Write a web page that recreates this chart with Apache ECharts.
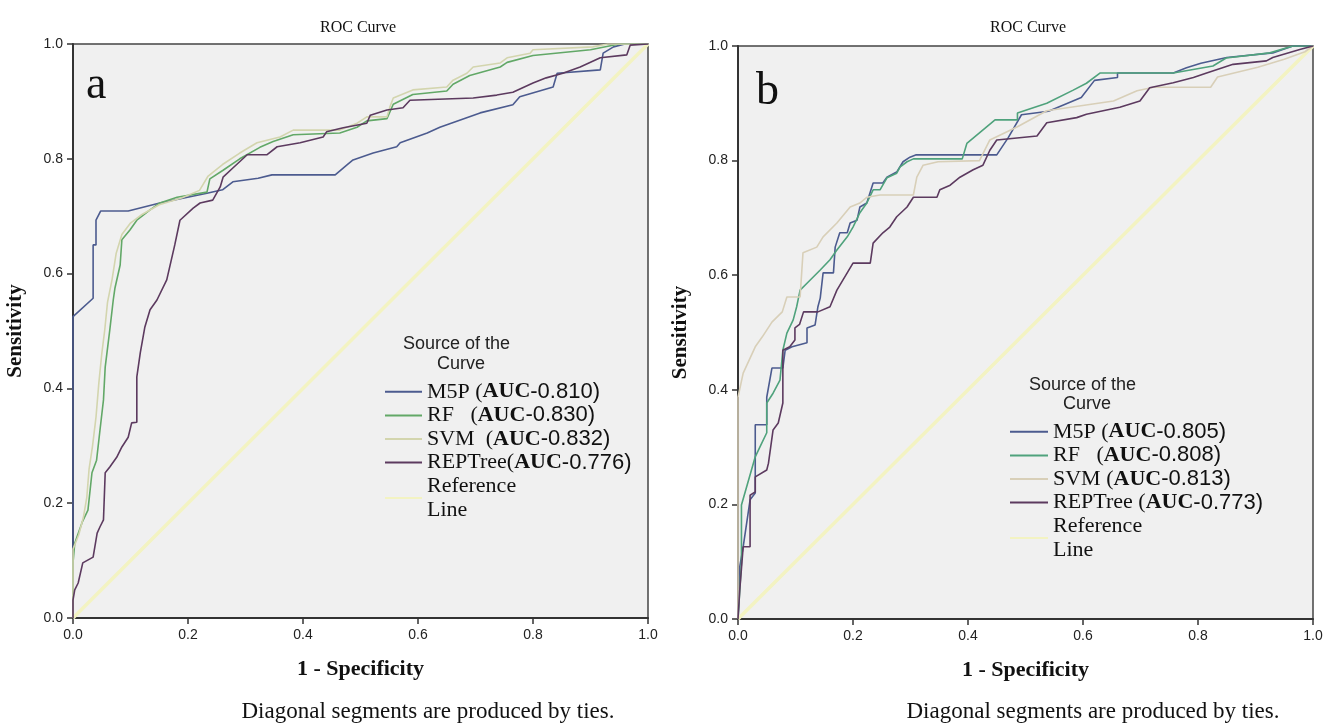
<!DOCTYPE html>
<html><head><meta charset="utf-8">
<script src="https://cdn.jsdelivr.net/npm/echarts@6/dist/echarts.min.js"></script>
<style>html,body{margin:0;padding:0;background:#fff}#c{width:1338px;height:726px}</style>
</head><body><div id="c"></div>
<script>
// ---------- data ----------
const namesA = ['M5P (AUC-0.810)', 'RF   (AUC-0.830)', 'SVM  (AUC-0.832)', 'REPTree(AUC-0.776)'];
const namesB = ['M5P (AUC-0.805)', 'RF   (AUC-0.808)', 'SVM (AUC-0.813)', 'REPTree (AUC-0.773)'];
const refName = 'Reference\nLine';
const refLine = [[0, 0], [1, 1]];

const aM5P = [[0,0],[0,0.525],[0.035,0.557],[0.035,0.65],[0.04,0.65],[0.04,0.693],[0.048,0.709],[0.096,0.709],[0.151,0.723],[0.233,0.74],[0.26,0.746],[0.278,0.76],[0.322,0.766],[0.346,0.772],[0.456,0.772],[0.476,0.789],[0.487,0.798],[0.522,0.81],[0.563,0.821],[0.569,0.828],[0.616,0.845],[0.638,0.855],[0.708,0.88],[0.765,0.894],[0.777,0.908],[0.835,0.925],[0.842,0.949],[0.917,0.955],[0.922,0.984],[0.94,0.995],[0.96,1],[1,1]];
const aRF = [[0,0],[0,0.096],[0.003,0.13],[0.016,0.167],[0.026,0.188],[0.033,0.253],[0.041,0.275],[0.047,0.328],[0.053,0.38],[0.056,0.437],[0.064,0.502],[0.07,0.554],[0.073,0.575],[0.082,0.615],[0.085,0.659],[0.099,0.676],[0.111,0.693],[0.134,0.711],[0.151,0.723],[0.181,0.733],[0.233,0.742],[0.238,0.765],[0.261,0.78],[0.29,0.8],[0.325,0.82],[0.348,0.83],[0.383,0.842],[0.464,0.845],[0.494,0.855],[0.511,0.866],[0.546,0.87],[0.557,0.895],[0.591,0.912],[0.65,0.918],[0.661,0.93],[0.69,0.945],[0.743,0.96],[0.755,0.968],[0.8,0.98],[0.9,0.99],[0.95,1],[1,1]];
const aSVM = [[0,0],[0,0.12],[0.01,0.145],[0.018,0.175],[0.024,0.21],[0.028,0.26],[0.034,0.3],[0.04,0.35],[0.045,0.41],[0.05,0.46],[0.055,0.5],[0.06,0.55],[0.068,0.59],[0.075,0.635],[0.085,0.668],[0.1,0.688],[0.12,0.703],[0.15,0.72],[0.19,0.732],[0.22,0.745],[0.235,0.77],[0.26,0.79],[0.29,0.81],[0.32,0.828],[0.36,0.838],[0.383,0.85],[0.464,0.85],[0.494,0.862],[0.511,0.873],[0.546,0.873],[0.551,0.89],[0.557,0.906],[0.591,0.92],[0.65,0.925],[0.661,0.937],[0.685,0.949],[0.696,0.96],[0.743,0.967],[0.755,0.976],[0.795,0.984],[0.8,0.99],[0.904,0.995],[0.93,1],[1,1]];
const aREP = [[0,0],[0,0.031],[0.003,0.049],[0.009,0.061],[0.017,0.096],[0.035,0.106],[0.042,0.148],[0.047,0.159],[0.053,0.171],[0.056,0.253],[0.064,0.263],[0.076,0.28],[0.085,0.298],[0.096,0.315],[0.102,0.34],[0.111,0.341],[0.111,0.42],[0.117,0.462],[0.125,0.507],[0.134,0.537],[0.146,0.554],[0.163,0.589],[0.177,0.65],[0.186,0.693],[0.209,0.714],[0.221,0.723],[0.243,0.728],[0.256,0.751],[0.261,0.768],[0.278,0.784],[0.303,0.807],[0.337,0.807],[0.355,0.821],[0.395,0.828],[0.435,0.838],[0.441,0.847],[0.47,0.854],[0.511,0.862],[0.517,0.876],[0.546,0.885],[0.574,0.889],[0.586,0.902],[0.696,0.906],[0.737,0.911],[0.765,0.916],[0.8,0.932],[0.823,0.941],[0.852,0.949],[0.882,0.96],[0.917,0.976],[0.963,0.981],[0.969,0.998],[1,1]];

const bM5P = [[0,0],[0.003,0.091],[0.009,0.126],[0.021,0.208],[0.03,0.22],[0.03,0.339],[0.05,0.339],[0.05,0.387],[0.059,0.438],[0.078,0.438],[0.082,0.469],[0.094,0.475],[0.12,0.482],[0.12,0.508],[0.134,0.513],[0.139,0.545],[0.143,0.56],[0.148,0.604],[0.166,0.604],[0.169,0.649],[0.177,0.674],[0.19,0.674],[0.195,0.691],[0.207,0.696],[0.212,0.719],[0.224,0.726],[0.235,0.761],[0.252,0.761],[0.259,0.771],[0.276,0.78],[0.287,0.798],[0.299,0.806],[0.31,0.81],[0.45,0.81],[0.47,0.84],[0.493,0.88],[0.54,0.886],[0.597,0.91],[0.62,0.94],[0.66,0.945],[0.66,0.953],[0.757,0.953],[0.78,0.962],[0.805,0.97],[0.85,0.98],[0.93,0.988],[0.965,1],[1,1]];
const bRF = [[0,0],[0.006,0.098],[0.006,0.199],[0.009,0.199],[0.03,0.283],[0.038,0.3],[0.05,0.325],[0.05,0.377],[0.061,0.394],[0.073,0.417],[0.078,0.469],[0.085,0.499],[0.096,0.522],[0.102,0.545],[0.108,0.574],[0.12,0.586],[0.143,0.609],[0.16,0.627],[0.172,0.644],[0.19,0.667],[0.2,0.684],[0.212,0.709],[0.224,0.726],[0.235,0.749],[0.247,0.749],[0.259,0.77],[0.276,0.778],[0.282,0.789],[0.294,0.798],[0.305,0.803],[0.39,0.803],[0.398,0.83],[0.447,0.871],[0.486,0.871],[0.486,0.883],[0.537,0.9],[0.583,0.923],[0.606,0.935],[0.63,0.953],[0.757,0.953],[0.826,0.965],[0.849,0.979],[0.925,0.988],[0.965,1],[1,1]];
const bSVM = [[0,0],[0,0.387],[0.009,0.429],[0.03,0.475],[0.042,0.492],[0.059,0.518],[0.077,0.536],[0.085,0.562],[0.108,0.562],[0.113,0.639],[0.137,0.649],[0.148,0.667],[0.172,0.691],[0.195,0.719],[0.212,0.726],[0.224,0.736],[0.247,0.74],[0.305,0.74],[0.311,0.771],[0.322,0.792],[0.348,0.798],[0.42,0.8],[0.438,0.836],[0.486,0.859],[0.537,0.887],[0.653,0.904],[0.694,0.922],[0.723,0.928],[0.822,0.928],[0.834,0.946],[0.904,0.963],[0.95,0.977],[0.986,0.99],[1,1]];
const bREP = [[0,0],[0.003,0.05],[0.009,0.126],[0.021,0.126],[0.021,0.216],[0.03,0.222],[0.03,0.248],[0.05,0.26],[0.053,0.272],[0.061,0.33],[0.07,0.342],[0.078,0.377],[0.078,0.469],[0.09,0.475],[0.099,0.487],[0.099,0.508],[0.107,0.514],[0.114,0.536],[0.139,0.536],[0.16,0.545],[0.172,0.574],[0.2,0.621],[0.23,0.621],[0.235,0.656],[0.252,0.674],[0.264,0.684],[0.276,0.702],[0.294,0.719],[0.305,0.736],[0.346,0.736],[0.351,0.749],[0.369,0.757],[0.386,0.771],[0.409,0.784],[0.426,0.792],[0.438,0.818],[0.45,0.836],[0.52,0.843],[0.537,0.866],[0.589,0.875],[0.606,0.881],[0.664,0.893],[0.699,0.904],[0.716,0.927],[0.757,0.936],[0.792,0.945],[0.815,0.953],[0.861,0.968],[0.919,0.974],[0.93,0.98],[0.977,0.994],[1,1]];

// ---------- styling ----------
const colorsA = ['#4c5b8f', '#62a867', '#d3d5ae', '#5c3a5f'];
const colorsB = ['#4c5b8f', '#4fa27c', '#d8cfb8', '#5c3a5f'];
const refColor = '#f3f3c2';
const SERIF = '"Liberation Serif", "DejaVu Serif", serif';
const SANS = '"Liberation Sans", Arial, sans-serif';

const chart = echarts.init(document.getElementById('c'), null, {renderer: 'canvas'});

function axisCommon(extra) {
  return Object.assign({
    type: 'value', min: 0, max: 1, interval: 0.2,
    axisLine: {show: true, lineStyle: {color: '#333', width: 2}},
    axisTick: {show: true, inside: false, length: 6, lineStyle: {color: '#333', width: 1.5}},
    axisLabel: {formatter: v => v.toFixed(1), fontFamily: SANS, fontSize: 14, color: '#222', margin: 10},
    splitLine: {show: false},
    nameLocation: 'middle'
  }, extra);
}

function curve(name, data, color, idx) {
  return {
    type: 'line', name, data, xAxisIndex: idx, yAxisIndex: idx,
    showSymbol: false, symbol: 'none', smooth: false,
    lineStyle: {color, width: 1.6}, itemStyle: {color},
    animation: false, z: 3
  };
}
function refSeries(idx) {
  return {
    type: 'line', name: refName, data: refLine, xAxisIndex: idx, yAxisIndex: idx,
    showSymbol: false, symbol: 'none', lineStyle: {color: refColor, width: 3.5}, itemStyle: {color: refColor},
    animation: false, z: 2
  };
}
function legendFor(names, left, top, itemWidth) {
  return {
    show: true, orient: 'vertical', left, top, padding: 0, itemGap: 0,
    itemWidth, itemHeight: 2, icon: 'rect', selectedMode: false,
    data: names.concat([refName]),
    formatter: n => n.replace(/AUC(-[\d.]+\))/, '{b|AUC}{s|$1}'),
    textStyle: {fontFamily: SERIF, fontSize: 22, lineHeight: 23.6, color: '#111',
      rich: {
        b: {fontFamily: SERIF, fontSize: 22, lineHeight: 23.6, fontWeight: 'bold', color: '#111'},
        s: {fontFamily: SANS, fontSize: 22, lineHeight: 23.6, color: '#111'}
      }}
  };
}
function txt(text, x, y, font, align, fill) {
  return {type: 'text', x, y, silent: true, z: 10,
    style: {text, font, fill: fill || '#111', textAlign: align || 'center', textVerticalAlign: 'middle', align: align || 'center', verticalAlign: 'middle'}};
}

const option = {
  backgroundColor: '#ffffff',
  animation: false,
  grid: [
    {left: 73, top: 44, width: 575, height: 574, show: true, backgroundColor: '#f0f0f0', borderColor: '#444', borderWidth: 1.5},
    {left: 738, top: 46, width: 575, height: 573, show: true, backgroundColor: '#f0f0f0', borderColor: '#444', borderWidth: 1.5}
  ],
  xAxis: [
    axisCommon({gridIndex: 0, name: '1 - Specificity', nameGap: 40,
      nameTextStyle: {fontFamily: SERIF, fontSize: 22, fontWeight: 'bold', color: '#111'}}),
    axisCommon({gridIndex: 1, name: '1 - Specificity', nameGap: 40,
      nameTextStyle: {fontFamily: SERIF, fontSize: 22, fontWeight: 'bold', color: '#111'}})
  ],
  yAxis: [
    axisCommon({gridIndex: 0, name: 'Sensitivity', nameGap: 47,
      nameTextStyle: {fontFamily: SERIF, fontSize: 21, fontWeight: 'bold', color: '#111'}}),
    axisCommon({gridIndex: 1, name: 'Sensitivity', nameGap: 47,
      nameTextStyle: {fontFamily: SERIF, fontSize: 21, fontWeight: 'bold', color: '#111'}})
  ],
  legend: [legendFor(namesA, 385, 380, 37), legendFor(namesB, 1010, 420, 38)],
  series: [
    refSeries(0),
    curve(namesA[0], aM5P, colorsA[0], 0),
    curve(namesA[1], aRF, colorsA[1], 0),
    curve(namesA[2], aSVM, colorsA[2], 0),
    curve(namesA[3], aREP, colorsA[3], 0),
    refSeries(1),
    curve(namesB[0], bM5P, colorsB[0], 1),
    curve(namesB[1], bRF, colorsB[1], 1),
    curve(namesB[2], bSVM, colorsB[2], 1),
    curve(namesB[3], bREP, colorsB[3], 1)
  ],
  graphic: [
    txt('ROC Curve', 358, 28, '16px ' + SERIF),
    txt('ROC Curve', 1028, 28, '16px ' + SERIF),
    txt('a', 86, 86, '46px ' + SERIF, 'left'),
    txt('b', 756, 92, '46px ' + SERIF, 'left'),
    txt('Source of the', 403, 344, '18px ' + SANS, 'left', '#222'),
    txt('Curve', 437, 364, '18px ' + SANS, 'left', '#222'),
    txt('Source of the', 1029, 385, '18px ' + SANS, 'left', '#222'),
    txt('Curve', 1063, 404, '18px ' + SANS, 'left', '#222'),
    txt('Diagonal segments are produced by ties.', 428, 712, '23px ' + SERIF),
    txt('Diagonal segments are produced by ties.', 1093, 712, '23px ' + SERIF)
  ]
};
chart.setOption(option);
</script></body></html>
